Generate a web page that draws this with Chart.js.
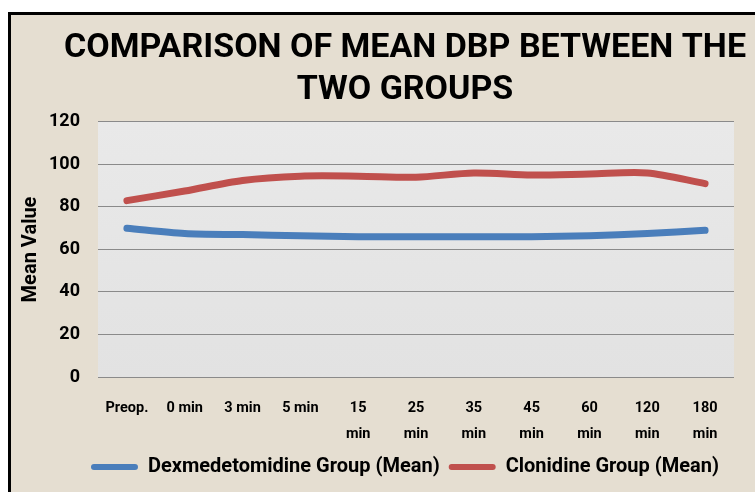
<!DOCTYPE html>
<html>
<head>
<meta charset="utf-8">
<script src="https://cdn.jsdelivr.net/npm/chart.js@4"></script>
<style>
  body { margin: 0; background: #fff; overflow: hidden; }
  #frame {
    position: absolute; left: 8px; top: 12px;
    width: 788px; height: 477px;
    border-left: 3px solid #000; border-top: 3px solid #000;
    background: #e5ded1;
  }
</style>
</head>
<body>
<div id="frame"><canvas id="dbpChart" width="788" height="477"></canvas></div>
<script>
var timeLabels = [
    'Preop.', '0 min', '3 min', '5 min',
    ['15', 'min'], ['25', 'min'], ['35', 'min'], ['45', 'min'],
    ['60', 'min'], ['120', 'min'], ['180', 'min']
];
var dexValues = [70, 67.5, 67, 66.5, 66, 66, 66, 66, 66.5, 67.5, 69];
var cloValues = [83, 87.5, 92.5, 94.5, 94.5, 94, 96, 95, 95.5, 96, 91];

var FONT = "Roboto, 'DejaVu Sans', sans-serif";

// gray panel behind the plot area
var plotBg = {
    id: 'plotBg',
    beforeDraw: function(chart) {
        var a = chart.chartArea;
        var ctx = chart.ctx;
        var g = ctx.createLinearGradient(0, a.top, 0, a.bottom);
        g.addColorStop(0, '#e9e9e9');
        g.addColorStop(1, '#e2e2e2');
        ctx.save();
        ctx.fillStyle = g;
        ctx.fillRect(a.left, a.top, a.right - a.left, a.bottom - a.top);
        ctx.restore();
    }
};

new Chart(document.getElementById('dbpChart'), {
    type: 'line',
    data: {
        labels: timeLabels,
        datasets: [{
            label: 'Dexmedetomidine Group (Mean)',
            data: dexValues,
            borderColor: '#4a7ebb',
            backgroundColor: '#4a7ebb',
            borderWidth: 7,
            pointRadius: 0,
            tension: 0.3,
            borderCapStyle: 'round'
        }, {
            label: 'Clonidine Group (Mean)',
            data: cloValues,
            borderColor: '#c0504d',
            backgroundColor: '#c0504d',
            borderWidth: 7,
            pointRadius: 0,
            tension: 0.3,
            borderCapStyle: 'round'
        }]
    },
    options: {
        responsive: false,
        animation: false,
        layout: { padding: { left: 0, right: 0, top: 6, bottom: 5 } },
        plugins: {
            title: {
                display: true,
                text: ['COMPARISON OF MEAN DBP BETWEEN THE', 'TWO GROUPS'],
                color: '#000',
                font: { family: FONT, size: 34, weight: 'bold', lineHeight: 1.22 },
                padding: { top: 7, bottom: 11 }
            },
            legend: {
                position: 'bottom',
                labels: {
                    color: '#000',
                    font: { family: FONT, size: 20, weight: 'bold' },
                    boxWidth: 47,
                    boxHeight: 6,
                    padding: 9,
                    useBorderRadius: true,
                    borderRadius: 3,
                    generateLabels: function(chart) {
                        var items = Chart.defaults.plugins.legend.labels.generateLabels(chart);
                        items.forEach(function(it) { it.lineWidth = 0; });
                        return items;
                    }
                }
            },
            tooltip: { enabled: false }
        },
        scales: {
            x: {
                offset: true,
                grid: { display: false },
                border: { display: false },
                ticks: {
                    color: '#000',
                    maxRotation: 0,
                    autoSkip: false,
                    padding: 10,
                    font: { family: FONT, size: 14.5, weight: 'bold', lineHeight: 1.8 }
                },
                afterFit: function(scale) { scale.height = 71; }
            },
            y: {
                min: 0,
                max: 120,
                ticks: {
                    stepSize: 20,
                    color: '#000',
                    padding: 18,
                    font: { family: FONT, size: 18, weight: 'bold' }
                },
                grid: { color: '#8a8a8a', drawTicks: false },
                border: { display: false },
                title: {
                    display: true,
                    text: 'Mean Value',
                    color: '#000',
                    padding: { top: 8, bottom: 0 },
                    font: { family: FONT, size: 20, weight: 'bold' }
                },
                afterFit: function(scale) { scale.width = 87; }
            },
            // empty right-hand axis, only keeps the plot clear of the right edge
            ySpace: {
                position: 'right',
                min: 0,
                max: 120,
                ticks: { display: false },
                grid: { display: false },
                border: { display: false },
                afterFit: function(scale) { scale.width = 65; }
            }
        }
    },
    plugins: [plotBg]
});
</script>
</body>
</html>
